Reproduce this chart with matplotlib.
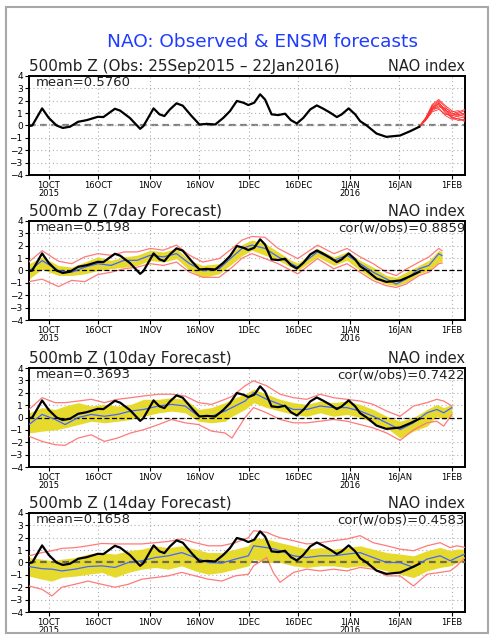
import numpy as np
import matplotlib
matplotlib.use('Agg')
import matplotlib.pyplot as plt
import matplotlib.dates as mdates
from matplotlib.patches import Rectangle
from datetime import datetime

# day 0 = 25 Sep 2015
start = mdates.date2num(datetime(2015, 9, 25))

tick_dates = ['2015-10-01', '2015-10-16', '2015-11-01', '2015-11-16', '2015-12-01',
              '2015-12-16', '2016-01-01', '2016-01-16', '2016-02-01']
tick_labels = ['1OCT\n2015', '16OCT', '1NOV', '16NOV', '1DEC', '16DEC', '1JAN\n2016', '16JAN', '1FEB']

# observed NAO index
obs_days = [0, 1, 4, 6, 8.4, 10.3, 12.5, 15, 17.6, 21, 22.7, 26.2, 27.8, 30.8, 33.9, 34.9, 38,
            39.8, 41.3, 43, 45, 46.9, 49.6, 52, 54.2, 56.8, 59.3, 61.3, 63.4, 65.4, 66.9, 68.7,
            70.5, 72, 74, 76, 78.1, 79.9, 81.7, 83.7, 85.8, 87.8, 89.8, 91.9, 93.9, 95.4, 97.5,
            99.5, 101, 103, 106, 109, 113.2, 116.3, 119.1]
obs_vals = [-0.05, 0.0, 1.38, 0.62, 0.0, -0.2, -0.1, 0.3, 0.43, 0.7, 0.68, 1.35, 1.2, 0.6, -0.27,
            -0.05, 1.38, 0.9, 0.76, 1.3, 1.79, 1.6, 0.76, 0.08, 0.13, 0.08, 0.62, 1.16, 1.98, 1.84,
            1.65, 1.84, 2.52, 2.1, 0.9, 0.84, 0.95, 0.43, 0.16, 0.62, 1.3, 1.62, 1.35, 1.03, 0.68,
            0.9, 1.38, 0.9, 0.35, 0.0, -0.65, -0.92, -0.81, -0.46, -0.1]

# ensemble members of the current forecast (top panel)
ens_days = [119, 121, 123, 125, 127, 129, 131, 133]
ens_members = [
    [-0.1, 0.6, 1.6, 2.0, 1.5, 0.9, 1.1, 1.3],
    [-0.1, 0.5, 1.4, 1.8, 1.3, 0.8, 0.9, 1.0],
    [-0.1, 0.5, 1.3, 1.6, 1.2, 1.0, 0.7, 0.6],
    [-0.1, 0.6, 1.5, 1.9, 1.1, 0.6, 0.8, 0.9],
    [-0.1, 0.4, 1.2, 1.5, 1.4, 1.1, 1.2, 0.8],
    [-0.1, 0.5, 1.5, 1.7, 1.0, 0.7, 0.5, 0.4],
    [-0.1, 0.4, 1.1, 1.3, 0.9, 0.8, 1.0, 1.2],
    [-0.1, 0.6, 1.7, 2.1, 1.6, 1.2, 0.9, 0.7],
    [-0.1, 0.5, 1.4, 1.4, 0.8, 0.5, 0.6, 0.3],
    [-0.1, 0.5, 1.3, 1.8, 1.3, 0.6, 0.4, 0.5],
]

# 7-day forecast
d7_days = [0, 4, 9, 13, 17, 21, 25, 29, 33, 37, 41, 45, 49, 53, 58, 62, 65, 68, 72, 76, 80, 82,
           88, 93, 97, 101, 105, 109, 112, 115, 119, 122, 125, 126]
d7_yhi = [0.55, 1.1, 0.4, 0.27, 0.68, 1.1, 0.82, 1.1, 1.23, 1.64, 1.5, 1.78, 0.82, 0.41, 0.55,
          1.5, 2.1, 2.46, 2.19, 1.5, 0.82, 0.6, 1.78, 1.1, 1.5, 0.82, 0.27, -0.41, -0.55, -0.14,
          0.41, 0.82, 1.64, 1.5]
d7_ylo = [-0.68, 0.1, -0.4, -0.4, -0.27, 0.0, 0.14, 0.27, 0.41, 0.82, 0.68, 0.96, 0.0, -0.55,
          -0.27, 0.55, 1.2, 1.64, 1.23, 0.82, 0.27, 0.0, 1.1, 0.41, 0.82, 0.0, -0.68, -1.1, -1.23,
          -0.96, -0.27, 0.0, 0.68, 0.7]
d7_mean = [-0.05, 0.8, 0.0, -0.14, 0.27, 0.55, 0.41, 0.82, 0.82, 1.23, 1.1, 1.36, 0.55, 0.0, 0.14,
           1.1, 1.78, 2.05, 1.78, 1.1, 0.55, 0.27, 1.5, 0.82, 1.23, 0.55, -0.14, -0.68, -1.1, -0.7,
           0.14, 0.41, 1.36, 1.2]
d7_rhi = [0.7, 1.6, 0.75, 0.55, 1.1, 1.36, 1.23, 1.5, 1.5, 1.78, 1.64, 2.05, 1.23, 0.68, 0.96,
          1.78, 2.46, 2.75, 2.68, 1.78, 1.23, 0.96, 2.05, 1.36, 1.78, 1.1, 0.55, -0.14, -0.41, 0.1,
          0.68, 1.1, 1.78, 1.6]
d7_rlo = [-0.9, -0.7, -1.3, -0.8, -0.9, -0.33, -0.14, 0.14, 0.27, 0.55, 0.41, 0.68, -0.14, -0.55,
          -0.55, 0.27, 1.0, 1.36, 0.96, 0.55, 0.0, -0.27, 0.96, 0.14, 0.55, -0.14, -0.82, -1.23,
          -1.37, -1.1, -0.41, -0.14, 0.55, 0.6]

# 10-day forecast
d10_days = [0, 4, 8, 11, 15, 19, 23, 27, 31, 35, 39.5, 43.5, 47.6, 51.7, 55.7, 59.8, 61.9, 65.9,
            68.5, 72.5, 76.6, 80.7, 84.7, 88.8, 92.9, 97, 101, 105, 109.1, 113.2, 117.3, 121.4,
            124.4, 126.5, 129]
d10_yhi = [0.38, 0.8, 0.65, 0.93, 1.2, 0.93, 1.06, 0.93, 1.06, 1.47, 1.47, 1.6, 1.47, 0.65, 0.8,
           1.2, 1.5, 1.88, 2.3, 1.88, 1.47, 1.2, 1.06, 1.33, 1.2, 1.33, 1.06, 0.65, 0.1, -0.3, 0.0,
           0.65, 1.06, 0.8, 1.06]
d10_ylo = [-1.25, -1.1, -1.0, -0.84, -0.57, -0.3, -0.43, -0.3, -0.16, 0.1, 0.38, 0.52, 0.38, -0.3,
           -0.43, -0.3, 0.1, 0.65, 1.2, 0.8, 0.52, 0.25, 0.1, 0.38, 0.1, 0.25, 0.0, -0.43, -0.84,
           -1.66, -1.1, -0.7, 0.1, -0.16, 0.1]
d10_mean = [-0.57, 0.25, -0.16, -0.57, 0.0, 0.25, 0.1, 0.25, 0.52, 0.65, 0.93, 1.06, 0.93, 0.1,
            0.1, 0.52, 0.8, 1.33, 2.0, 1.47, 1.06, 0.65, 0.65, 0.93, 0.8, 0.8, 0.52, 0.1, -0.43,
            -0.98, -0.43, 0.38, 0.65, 0.38, 0.8]
d10_rhi = [0.65, 1.6, 1.2, 1.2, 1.33, 1.47, 1.2, 1.47, 1.6, 1.74, 1.88, 1.88, 1.74, 1.2, 1.06,
           1.47, 1.7, 2.56, 2.97, 2.56, 1.88, 1.6, 1.47, 1.88, 1.6, 1.47, 1.33, 1.06, 0.52, 0.1,
           0.93, 1.2, 1.47, 1.33, 0.93]
d10_rlo = [-1.52, -1.93, -2.2, -2.25, -1.66, -1.4, -1.93, -1.66, -1.25, -0.98, -0.57, -0.16,
           -0.43, -0.57, -1.1, -1.25, -1.66, 0.0, 0.8, 0.38, -0.16, -0.43, -0.43, -0.3, -0.16,
           -0.3, -0.57, -0.84, -1.25, -1.85, -1.0, -0.43, -0.3, -0.7, 0.25]

# 14-day forecast
d14_days = [0, 4, 7, 10, 14, 18, 22.2, 26.2, 30.3, 34.4, 38.5, 42.5, 46.6, 50.7, 54.7, 58.8, 62.9,
            66.9, 68.5, 72.5, 74.5, 76.6, 80.7, 84.7, 88.8, 92.9, 97, 101, 105, 109.1, 113.2,
            117.3, 121.4, 125.4, 128.5, 130.5, 133]
d14_yhi = [0.4, 0.27, 0.14, 0.27, 0.4, 0.68, 0.8, 0.68, 0.95, 1.08, 1.35, 1.2, 1.35, 1.08, 0.8,
           0.8, 1.08, 1.35, 2.0, 1.9, 1.75, 1.6, 1.35, 1.08, 1.2, 1.08, 1.2, 1.35, 1.08, 0.8, 0.68,
           0.54, 0.95, 1.22, 0.95, 1.08, 1.08]
d14_ylo = [-1.1, -1.35, -1.5, -1.2, -1.1, -0.95, -0.8, -1.2, -0.8, -0.54, -0.4, -0.54, -0.27,
           -0.68, -0.95, -0.8, -0.54, -0.27, 0.27, 0.0, 0.0, 0.0, -0.27, -0.4, -0.27, -0.27, -0.4,
           -0.27, -0.4, -0.68, -0.95, -1.22, -0.68, -0.4, -0.27, 0.0, 0.14]
d14_mean = [-0.33, -0.5, -0.54, -0.68, -0.54, -0.33, -0.27, -0.4, 0.0, 0.14, 0.4, 0.54, 0.8, 0.4,
            0.0, -0.05, 0.27, 0.54, 1.35, 1.2, 1.1, 0.95, 0.54, 0.4, 0.54, 0.54, 0.68, 0.8, 0.4,
            0.0, 0.0, -0.4, 0.27, 0.54, 0.14, 0.4, 0.68]
d14_rhi = [0.54, 0.8, 0.95, 1.14, 1.2, 1.35, 1.54, 1.5, 1.5, 1.5, 1.6, 1.7, 1.9, 1.6, 1.35, 1.35,
           1.6, 2.0, 2.57, 2.44, 2.2, 2.0, 1.76, 1.5, 1.6, 1.76, 1.9, 2.17, 1.6, 1.35, 1.08, 0.95,
           1.35, 1.6, 1.2, 1.35, 1.22]
d14_rlo = [-1.9, -2.17, -2.7, -2.0, -1.76, -1.5, -1.76, -2.0, -1.76, -1.35, -1.22, -1.08, -0.8,
           -1.08, -1.35, -1.5, -1.08, -0.95, -0.27, 0.4, -0.8, -1.6, -0.8, -0.54, -0.68, -0.54,
           -0.68, -0.4, -0.54, -1.08, -1.08, -1.9, -0.95, -0.8, -0.68, -0.27, 0.4]

panel_titles = ['500mb Z (Obs: 25Sep2015 \u2013 22Jan2016)', '500mb Z (7day Forecast)',
                '500mb Z (10day Forecast)', '500mb Z (14day Forecast)']
means = ['mean=0.5760', 'mean=0.5198', 'mean=0.3693', 'mean=0.1658']
cors = [None, 'cor(w/obs)=0.8859', 'cor(w/obs)=0.7422', 'cor(w/obs)=0.4583']

band_yellow = '#e6da2c'
env_red = '#ff7a7a'
mean_blue = '#4466ff'

fig = plt.figure(figsize=(4.94, 6.40), dpi=100)
fig.patches.append(Rectangle((6 / 494, 1 - 633 / 640), 482 / 494, 626 / 640,
                             transform=fig.transFigure, fill=False, ec='#a8a8a8', lw=1.5))
fig.text(262 / 494, 1 - 42 / 640, 'NAO: Observed & ENSM forecasts', color='#1f3cff',
         fontsize=13.3, ha='center', va='center')

bottoms = [0.7266, 0.5, 0.2703, 0.04375]
axes = [fig.add_axes([0.0587, b, 0.8826, 0.1547]) for b in bottoms]

fcsts = [None,
         (d7_days, d7_yhi, d7_ylo, d7_mean, d7_rhi, d7_rlo),
         (d10_days, d10_yhi, d10_ylo, d10_mean, d10_rhi, d10_rlo),
         (d14_days, d14_yhi, d14_ylo, d14_mean, d14_rhi, d14_rlo)]

ticks = [mdates.date2num(datetime.strptime(d, '%Y-%m-%d')) for d in tick_dates]
ox = start + np.array(obs_days)

for i, ax in enumerate(axes):
    if fcsts[i] is not None:
        days, yhi, ylo, ym, rhi, rlo = fcsts[i]
        x = start + np.array(days)
        ax.fill_between(x, ylo, yhi, color=band_yellow, lw=0, zorder=2)
        ax.plot(x, rhi, color=env_red, lw=0.9, zorder=3)
        ax.plot(x, rlo, color=env_red, lw=0.9, zorder=3)
        ax.plot(x, ym, color=mean_blue, lw=0.9, zorder=4)
    if i == 0:
        for m in ens_members:
            ax.plot(start + np.array(ens_days), m, color='#ff3030', lw=0.6, zorder=4)
        ax.axhline(0, color='#808080', lw=1.6, ls=(0, (3, 2)), zorder=1)
    elif i == 3:
        ax.axhline(0, color='#6e6a50', lw=1.6, ls=(0, (3, 2)), zorder=3)
    else:
        ax.axhline(0, color='black', lw=0.9, ls=(0, (4, 2)), zorder=3)
    ax.plot(ox, obs_vals, color='black', lw=1.6, zorder=5)

    ax.set_xlim(start, start + 133)
    ax.set_ylim(-4, 4)
    ax.set_yticks(range(-4, 5))
    ax.set_xticks(ticks)
    ax.set_xticklabels(tick_labels, fontsize=6, linespacing=0.95)
    ax.tick_params(axis='y', labelsize=6.5, length=3, width=0.8, pad=1.5)
    ax.tick_params(axis='x', length=3, width=0.8, pad=1.2)
    ax.grid(True, color='#b0b0b0', ls=(0, (1, 2.5)), lw=0.8)
    for s in ax.spines.values():
        s.set_linewidth(1.4)

    ax.annotate(panel_titles[i], xy=(0, 1), xycoords='axes fraction', xytext=(0, 1.5),
                textcoords='offset points', ha='left', va='bottom', fontsize=11, color='#222222')
    ax.annotate('NAO index', xy=(1, 1), xycoords='axes fraction', xytext=(0, 1.5),
                textcoords='offset points', ha='right', va='bottom', fontsize=10.5, color='#222222')
    ax.text(0.015, 0.93, means[i], transform=ax.transAxes, ha='left', va='center',
            fontsize=9.5, color='#222222', zorder=6)
    if cors[i]:
        ax.text(1.0, 0.93, cors[i], transform=ax.transAxes, ha='right', va='center',
                fontsize=9.5, color='#222222', zorder=6)

fig.savefig('out.png', dpi=100)
